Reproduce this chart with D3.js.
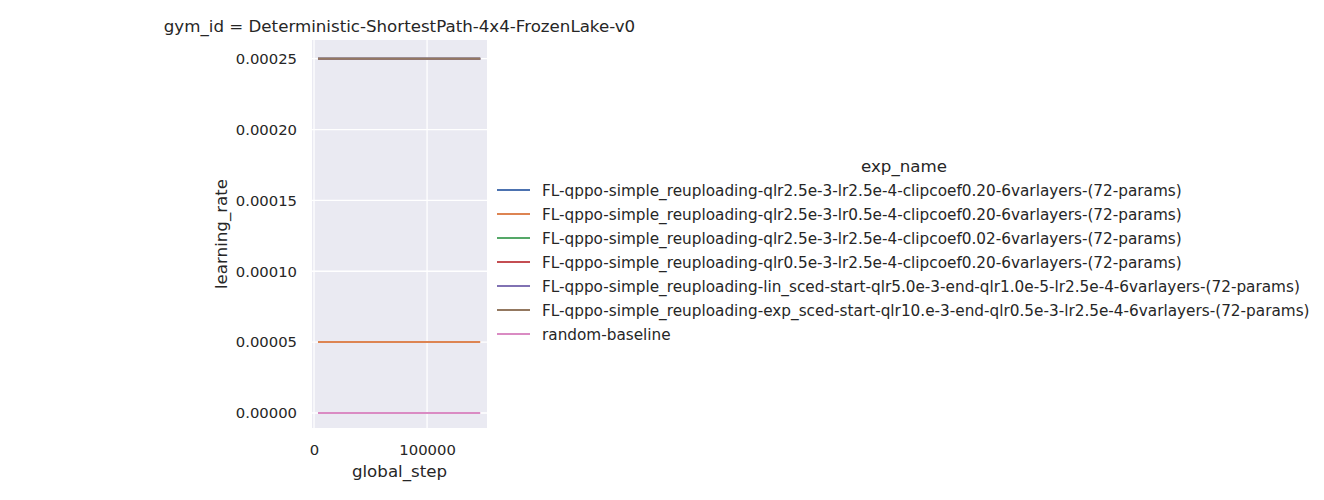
<!DOCTYPE html>
<html><head><meta charset="utf-8">
<script src="https://cdn.jsdelivr.net/npm/d3@7"></script>
<style>body{margin:0;background:#fff}svg{display:block;font-family:"DejaVu Sans",sans-serif}</style>
</head><body><svg id="c" width="1324" height="500"></svg>
<script>
const title = "gym_id = Deterministic-ShortestPath-4x4-FrozenLake-v0";
const legendTitle = "exp_name";
const seriesNames = [
  "FL-qppo-simple_reuploading-qlr2.5e-3-lr2.5e-4-clipcoef0.20-6varlayers-(72-params)",
  "FL-qppo-simple_reuploading-qlr2.5e-3-lr0.5e-4-clipcoef0.20-6varlayers-(72-params)",
  "FL-qppo-simple_reuploading-qlr2.5e-3-lr2.5e-4-clipcoef0.02-6varlayers-(72-params)",
  "FL-qppo-simple_reuploading-qlr0.5e-3-lr2.5e-4-clipcoef0.20-6varlayers-(72-params)",
  "FL-qppo-simple_reuploading-lin_sced-start-qlr5.0e-3-end-qlr1.0e-5-lr2.5e-4-6varlayers-(72-params)",
  "FL-qppo-simple_reuploading-exp_sced-start-qlr10.e-3-end-qlr0.5e-3-lr2.5e-4-6varlayers-(72-params)",
  "random-baseline"
];
const colors = ["#4c72b0","#dd8452","#55a868","#c44e52","#8172b3","#937860","#da8bc3"];
const globalStep = [3500, 25000, 50000, 75000, 100000, 125000, 147000];
const lr0 = [0.00025,0.00025,0.00025,0.00025,0.00025,0.00025,0.00025];
const lr1 = [0.00005,0.00005,0.00005,0.00005,0.00005,0.00005,0.00005];
const lr2 = [0.00025,0.00025,0.00025,0.00025,0.00025,0.00025,0.00025];
const lr3 = [0.00025,0.00025,0.00025,0.00025,0.00025,0.00025,0.00025];
const lr4 = [0.00025,0.00025,0.00025,0.00025,0.00025,0.00025,0.00025];
const lr5 = [0.00025,0.00025,0.00025,0.00025,0.00025,0.00025,0.00025];
const lr6 = [0,0,0,0,0,0,0];
const seriesValues = [lr0,lr1,lr2,lr3,lr4,lr5,lr6];
const xTicks = [0, 100000];
const yTicks = [0, 0.00005, 0.0001, 0.00015, 0.0002, 0.00025];

const svg = d3.select("#c");
const L = 312, R = 487, T = 40, B = 428;
const x = d3.scaleLinear().domain([-1800, 153000]).range([L, R]);
const y = d3.scaleLinear().domain([-0.0000106, 0.0002632]).range([B, T]);
const fs = "14.8px", fl = "16.67px", fleg = "15.28px", tc = "#262626";

svg.append("rect").attr("x",L).attr("y",T).attr("width",R-L).attr("height",B-T).attr("fill","#eaeaf2");
const g = svg.append("g");
g.selectAll(".gx").data(xTicks).join("line").attr("x1",d=>x(d)).attr("x2",d=>x(d)).attr("y1",T).attr("y2",B)
  .attr("stroke","#fff").attr("stroke-width",1.3);
g.selectAll(".gy").data(yTicks).join("line").attr("y1",d=>y(d)).attr("y2",d=>y(d)).attr("x1",L).attr("x2",R)
  .attr("stroke","#fff").attr("stroke-width",1.3);

const xa = svg.append("g").attr("transform",`translate(0,${B})`)
  .call(d3.axisBottom(x).tickValues(xTicks).tickSize(0).tickPadding(16).tickFormat(d3.format("d")));
const ya = svg.append("g").attr("transform",`translate(${L},0)`)
  .call(d3.axisLeft(y).tickValues(yTicks).tickSize(0).tickPadding(15).tickFormat(d3.format(".5f")));
[xa,ya].forEach(a=>{a.select(".domain").remove();a.selectAll("text").attr("font-size",fs).attr("fill",tc).attr("font-family","DejaVu Sans");});

const line = d3.line().x((d,i)=>x(globalStep[i])).y(d=>y(d));
svg.append("g").selectAll("path").data(seriesValues).join("path")
  .attr("d",d=>line(d)).attr("fill","none").attr("stroke",(d,i)=>colors[i]).attr("stroke-width",2);

svg.append("text").attr("x",(L+R)/2).attr("y",32).attr("text-anchor","middle").attr("font-size",fl).attr("fill",tc).text(title);
svg.append("text").attr("x",(L+R)/2).attr("y",477).attr("text-anchor","middle").attr("font-size",fl).attr("fill",tc).text("global_step");
svg.append("text").attr("transform",`translate(227,${(T+B)/2}) rotate(-90)`).attr("text-anchor","middle").attr("font-size",fl).attr("fill",tc).text("learning_rate");

svg.append("text").attr("x",904).attr("y",172).attr("text-anchor","middle").attr("font-size",fl).attr("fill",tc).text(legendTitle);
const lg = svg.append("g").selectAll("g").data(seriesNames).join("g").attr("transform",(d,i)=>`translate(0,${190+i*24})`);
lg.append("line").attr("x1",497).attr("x2",530).attr("stroke",(d,i)=>colors[i]).attr("stroke-width",2);
lg.append("text").attr("x",542).attr("y",5.5).attr("font-size",fleg).attr("fill",tc).text(d=>d);
</script></body></html>
